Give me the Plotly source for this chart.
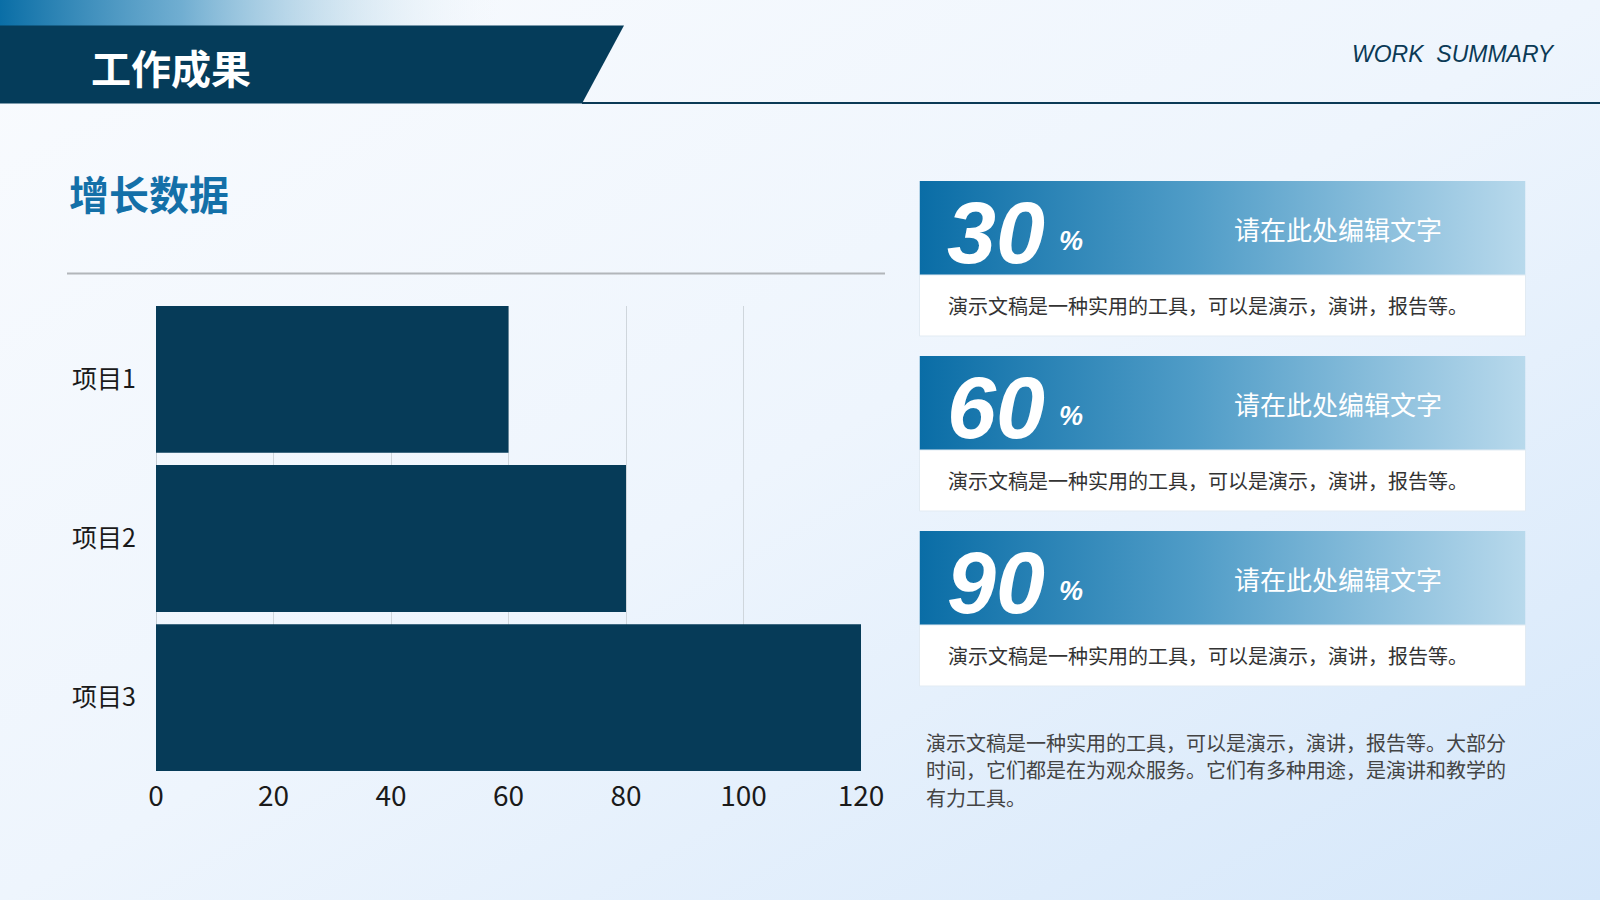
import base64
import plotly.graph_objects as go

W, H = 1600, 900

# 数据
categories = ["项目1", "项目2", "项目3"]
values = [60, 80, 120]
x_ticks = [0, 20, 40, 60, 80, 100, 120]

card_values = [30, 60, 90]
card_titles = ["请在此处编辑文字", "请在此处编辑文字", "请在此处编辑文字"]
card_texts = ["演示文稿是一种实用的工具，可以是演示，演讲，报告等。"] * 3
note_lines = [
    "演示文稿是一种实用的工具，可以是演示，演讲，报告等。大部分",
    "时间，它们都是在为观众服务。它们有多种用途，是演讲和教学的",
    "有力工具。",
]

DARK = "#063b58"
CJK = "Noto Sans CJK SC"
BARGAP = 0.077


def px(x):
    return x / W


def py(y):
    return 1 - y / H


def svg_grad(stops, x2=1, y2=0):
    stop_xml = "".join(
        f"<stop offset='{o}' stop-color='{c}' stop-opacity='{a}'/>" for o, c, a in stops
    )
    svg = (
        "<svg xmlns='http://www.w3.org/2000/svg' width='200' height='200' "
        "viewBox='0 0 200 200' preserveAspectRatio='none'>"
        f"<defs><linearGradient id='g' x1='0' y1='0' x2='{x2}' y2='{y2}'>{stop_xml}"
        "</linearGradient></defs><rect width='200' height='200' fill='url(#g)'/></svg>"
    )
    return "data:image/svg+xml;base64," + base64.b64encode(svg.encode()).decode()


def add_img(fig, src, x0, y0, x1, y1):
    fig.add_layout_image(
        source=src, xref="paper", yref="paper",
        x=px(x0), y=py(y0), sizex=(x1 - x0) / W, sizey=(y1 - y0) / H,
        xanchor="left", yanchor="top", sizing="stretch", layer="below",
    )


def add_text(fig, text, x, y, size, color, family=CJK, xanchor="left"):
    fig.add_annotation(
        text=text, x=px(x), y=py(y), xref="paper", yref="paper",
        xanchor=xanchor, yanchor="middle", showarrow=False, align="left",
        font=dict(family=family, size=size, color=color),
    )


fig = go.Figure()

# 条形图
fig.add_trace(go.Bar(
    y=categories,
    x=values,
    orientation="h",
    marker=dict(color=DARK, line=dict(width=0)),
    hoverinfo="x+y",
))

half = (1 - BARGAP) / 2
fig.update_layout(
    width=W, height=H,
    autosize=False,
    margin=dict(l=0, r=0, t=0, b=0, pad=0, autoexpand=False),
    paper_bgcolor="#eef5fc",
    plot_bgcolor="rgba(0,0,0,0)",
    showlegend=False,
    bargap=BARGAP,
    xaxis=dict(
        domain=[px(156), px(861)],
        range=[0, 120],
        tickvals=x_ticks,
        showgrid=True, gridcolor="#cfd6dc", gridwidth=1,
        zeroline=True, zerolinecolor="#c3cbd2", zerolinewidth=1,
        showline=False, automargin=False,
        ticks="outside", ticklen=0, tickcolor="rgba(0,0,0,0)",
        tickfont=dict(family=CJK, size=28, color="#1a1a1a"),
        fixedrange=True,
    ),
    yaxis=dict(
        domain=[py(771), py(306)],
        range=[len(categories) - 1 + half, -half],
        showgrid=False, zeroline=False, showline=False, automargin=False,
        ticks="outside", ticklen=14, tickcolor="rgba(0,0,0,0)",
        tickfont=dict(family=CJK, size=25, color="#1a1a1a"),
        fixedrange=True,
    ),
)

# 背景渐变
add_img(fig, svg_grad([(0, "#f9fbfe", 1), (0.5, "#eef5fd", 1), (1, "#d5e7fa", 1)], 1, 1), 0, 0, W, H)
# 顶部渐变条
add_img(fig, svg_grad([(0, "#0a6ea6", 1), (0.35, "#4f9bc6", 0.8), (1, "#ffffff", 0)]), 0, 0, 520, 27)

# 标题横幅
fig.add_shape(
    type="path", xref="paper", yref="paper",
    path=f"M 0 {py(25.5)} L {px(624)} {py(25.5)} L {px(582)} {py(103.5)} L 0 {py(103.5)} Z",
    fillcolor="#053c5a", line=dict(width=0), layer="below",
)
fig.add_shape(
    type="line", xref="paper", yref="paper",
    x0=px(582), x1=1, y0=py(103), y1=py(103),
    line=dict(color="#0b3a56", width=2), layer="below",
)
add_text(fig, "<b>工作成果</b>", 89, 67, 40, "#ffffff")
add_text(fig, "<i>WORK\u00a0 SUMMARY</i>", 1557, 54, 23, "#0b3a56",
         family="Liberation Sans", xanchor="right")

# 小标题与分隔线
add_text(fig, "<b>增长数据</b>", 67, 193, 40, "#1470a8")
fig.add_shape(
    type="line", xref="paper", yref="paper",
    x0=px(67), x1=px(885), y0=py(273.5), y1=py(273.5),
    line=dict(color="#b2b6ba", width=2), layer="below",
)

# 右侧卡片
card_grad = svg_grad([(0, "#0a6da6", 1), (0.45, "#4f9cc7", 1), (1, "#b8d9ec", 1)])
for i, (val, title, txt) in enumerate(zip(card_values, card_titles, card_texts)):
    top = 181 + i * 175
    mid = top + 94
    bottom = mid + 61
    add_img(fig, card_grad, 919.5, top, 1525.5, mid)
    fig.add_shape(
        type="rect", xref="paper", yref="paper",
        x0=px(919.5), x1=px(1525.5), y0=py(mid), y1=py(bottom),
        fillcolor="#ffffff", line=dict(color="#e2ebf3", width=1), layer="below",
    )
    add_text(fig, f"<b><i>{val}</i></b>", 945, top + 51, 88, "#ffffff", family="Liberation Sans")
    add_text(fig, "<b><i>%</i></b>", 1057, top + 60, 27, "#ffffff", family="Liberation Sans")
    add_text(fig, title, 1338, top + 47, 26, "#ffffff", xanchor="center")
    add_text(fig, txt, 946, mid + 30.5, 20, "#333333")

# 底部说明
for k, line in enumerate(note_lines):
    add_text(fig, line, 924, 742 + k * 27.5, 20, "#444444")

page_fix = (
    "document.documentElement.style.margin='0';"
    "document.body.style.margin='0';document.body.style.padding='0';"
    "document.documentElement.style.overflow='hidden';"
    "var d=document.getElementById('{plot_id}');"
    "d.style.position='fixed';d.style.left='0px';d.style.top='0px';"
)
fig.write_html(
    "out.html",
    config={"responsive": False, "displayModeBar": False},
    post_script=page_fix,
)
